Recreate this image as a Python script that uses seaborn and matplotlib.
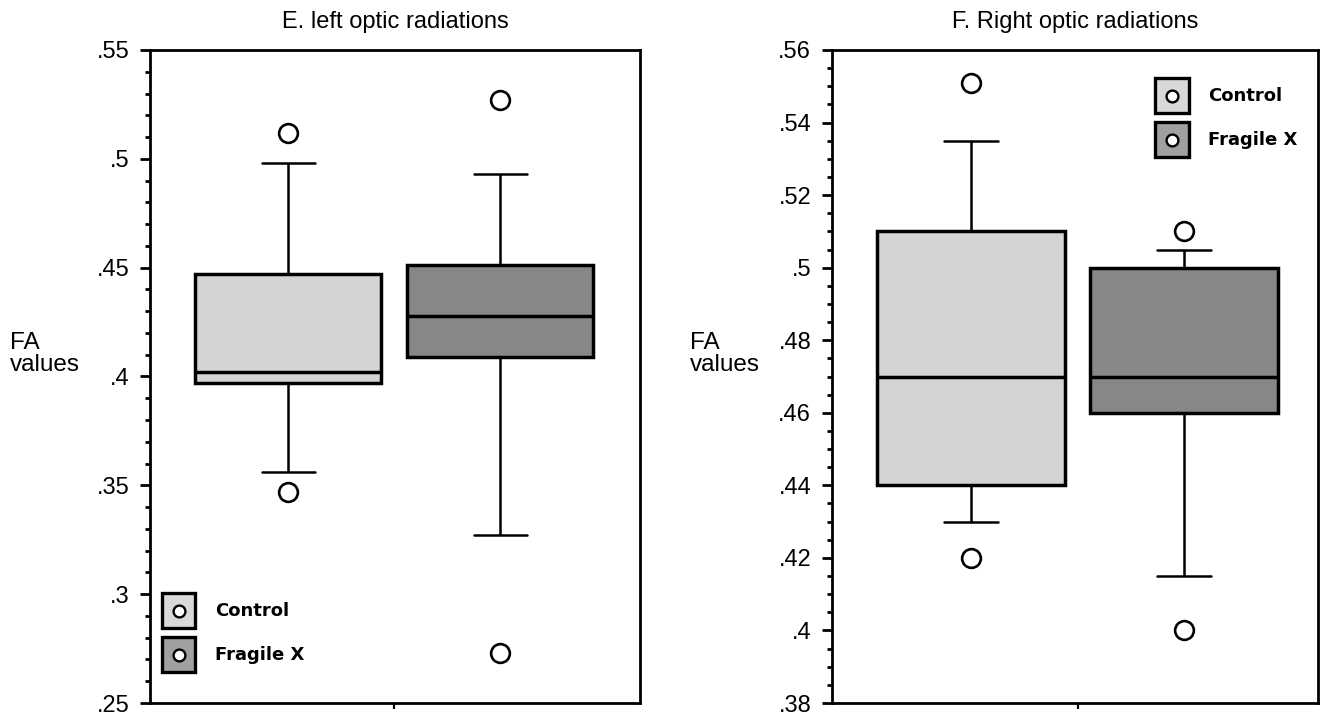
import numpy as np
import pandas as pd
import matplotlib
matplotlib.use("Agg")
import matplotlib.pyplot as plt
import seaborn as sns
from matplotlib.patches import Rectangle
from matplotlib.lines import Line2D
from matplotlib.ticker import MultipleLocator, FuncFormatter

groups = ["Control", "Fragile X"]
box_colors = ["#d4d4d4", "#878787"]
legend_colors = ["#d9d9d9", "#a0a0a0"]

# E. left optic radiations
left_out_lo = [.347, .273]
left_whis_lo = [.356, .327]
left_q1 = [.397, .409]
left_med = [.402, .428]
left_q3 = [.447, .451]
left_whis_hi = [.498, .493]
left_out_hi = [.512, .527]

# F. right optic radiations
right_out_lo = [.420, .400]
right_whis_lo = [.430, .415]
right_q1 = [.440, .460]
right_med = [.470, .470]
right_q3 = [.510, .500]
right_whis_hi = [.535, .505]
right_out_hi = [.551, .510]


def to_long(out_lo, w_lo, q1, med, q3, w_hi, out_hi):
    # nine points per group so that the quartiles fall on exact ranks
    rows = []
    for i, g in enumerate(groups):
        vals = [out_lo[i], w_lo[i], q1[i], q1[i], med[i], q3[i], q3[i], w_hi[i], out_hi[i]]
        rows += [(g, v) for v in vals]
    return pd.DataFrame(rows, columns=["group", "FA"])


left_df = to_long(left_out_lo, left_whis_lo, left_q1, left_med, left_q3, left_whis_hi, left_out_hi)
right_df = to_long(right_out_lo, right_whis_lo, right_q1, right_med, right_q3, right_whis_hi, right_out_hi)


class BoxKey:
    def __init__(self, color):
        self.color = color


class BoxKeyHandler:
    # grey square with a small open circle in the middle
    def legend_artist(self, legend, orig_handle, fontsize, handlebox):
        x0, y0 = handlebox.xdescent, handlebox.ydescent
        w, h = handlebox.width, handlebox.height
        tr = handlebox.get_transform()
        sq = Rectangle((-x0, -y0), w, h, facecolor=orig_handle.color,
                       edgecolor='black', linewidth=2.4, transform=tr)
        dot = Line2D([w / 2 - x0], [h / 2 - y0], linestyle='none', marker='o', markersize=8.5,
                     markerfacecolor='white', markeredgecolor='black', markeredgewidth=1.7,
                     transform=tr)
        handlebox.add_artist(sq)
        handlebox.add_artist(dot)
        return sq


sns.set_style("ticks")
plt.rcParams['font.family'] = ['Liberation Sans', 'DejaVu Sans']
plt.rcParams['text.color'] = 'black'
plt.rcParams['axes.labelcolor'] = 'black'

fig = plt.figure(figsize=(13.2, 7.17), dpi=100)
ax_l = fig.add_axes([150 / 1320, 14 / 717, 490 / 1320, 653 / 717])
ax_r = fig.add_axes([832 / 1320, 14 / 717, 486 / 1320, 653 / 717])

fmt = FuncFormatter(lambda v, _: f"{v:.2f}".rstrip('0').lstrip('0'))


def draw_panel(ax, df, title, ylim, major, minor, xlim, leg_loc, leg_anchor):
    sns.boxplot(data=df, x="group", y="FA", hue="group", order=groups,
                palette=dict(zip(groups, box_colors)), legend=False,
                saturation=1, width=0.88, whis=(10, 90), linecolor="black",
                linewidth=1.8, capwidths=0.25, ax=ax,
                boxprops=dict(linewidth=2.5),
                medianprops=dict(linewidth=2.5),
                flierprops=dict(marker='o', markerfacecolor='white', markeredgecolor='black',
                                markersize=13.5, markeredgewidth=1.9))
    ax.set_ylim(*ylim)
    ax.set_xlim(*xlim)
    ax.yaxis.set_major_locator(MultipleLocator(major))
    ax.yaxis.set_minor_locator(MultipleLocator(minor))
    ax.yaxis.set_major_formatter(fmt)
    ax.set_xticks([0.5])
    ax.set_xticklabels([""])
    ax.set_xlabel("")
    ax.set_ylabel("")
    for s in ax.spines.values():
        s.set_visible(True)
        s.set_linewidth(2.0)
        s.set_color("black")
    ax.tick_params(axis='y', which='major', length=7, width=2.0, pad=8, labelsize=17, colors='black')
    ax.tick_params(axis='y', which='minor', length=3.5, width=2.0, colors='black')
    ax.tick_params(axis='x', length=4, width=1.6, colors='black')
    ax.set_title(title, fontsize=17, pad=16)

    keys = [BoxKey(c) for c in legend_colors]
    ax.legend(keys, groups, handler_map={BoxKey: BoxKeyHandler()},
              loc=leg_loc, bbox_to_anchor=leg_anchor, frameon=False,
              borderaxespad=0, borderpad=0, handlelength=1.85, handleheight=2.6,
              labelspacing=0.5, handletextpad=1.1,
              prop=dict(family='DejaVu Sans', weight='bold', size=13))


draw_panel(ax_l, left_df, "E. left optic radiations", (.25, .55), .05, .01,
           (-0.651, 1.660), "lower left", (0.0245, 0.0475))
draw_panel(ax_r, right_df, "F. Right optic radiations", (.38, .56), .02, .005,
           (-0.653, 1.629), "upper left", (0.665, 0.957))

fig.text(10 / 1320, 1 - 354 / 717, "FA\nvalues", ha='left', va='center', fontsize=17.5, linespacing=0.95)
fig.text(690 / 1320, 1 - 354 / 717, "FA\nvalues", ha='left', va='center', fontsize=17.5, linespacing=0.95)

fig.savefig("out.png", dpi=100)
